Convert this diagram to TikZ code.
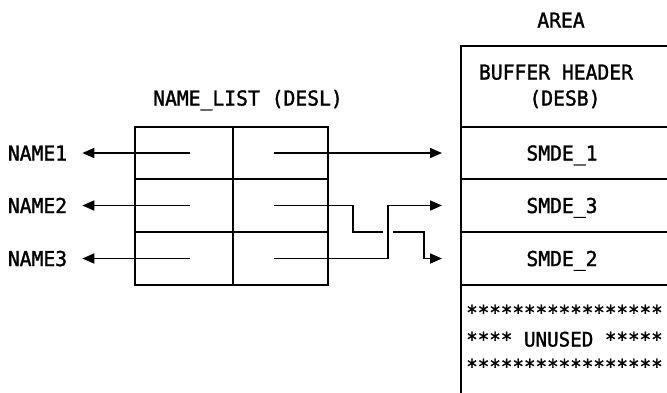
\documentclass[tikz,border=0pt]{standalone}
\usepackage{fontspec}
\setmonofont[FakeStretch=0.96,FakeBold=1.5]{DejaVu Sans Mono}
\usetikzlibrary{arrows.meta}
\begin{document}
\begin{tikzpicture}[x=1pt,y=-1pt,
  lbl/.style={font=\ttfamily\fontsize{20.5}{22}\selectfont, inner sep=0pt, text height=15pt, text depth=0pt},
  starlbl/.style={lbl, font=\ttfamily\fontsize{20}{22}\selectfont, anchor=west},
  wire/.style={line width=1.7pt},
  arr/.style={line width=1.7pt, -{Triangle[length=12pt,width=10pt]}},
  cellbox/.style={draw, line width=1.7pt, inner sep=0pt, outer sep=0pt},
  rowbox/.style={draw, line width=1.7pt, inner sep=0pt, outer sep=0pt, minimum width=280pt}]
\useasboundingbox (0,0) rectangle (667,392);
\clip (0,0) rectangle (667,392);

% NAME_LIST table
\node[lbl] (title) at (248,98) {NAME\_LIST (DESL)};
\node[cellbox, minimum width=98pt, minimum height=52pt] (c11) at (184,153) {};
\node[cellbox, minimum width=95pt, minimum height=52pt] (c12) at (280.5,153) {};
\node[cellbox, minimum width=98pt, minimum height=53pt] (c21) at (184,205.5) {};
\node[cellbox, minimum width=95pt, minimum height=53pt] (c22) at (280.5,205.5) {};
\node[cellbox, minimum width=98pt, minimum height=53pt] (c31) at (184,258.5) {};
\node[cellbox, minimum width=95pt, minimum height=53pt] (c32) at (280.5,258.5) {};

% names
\node[lbl] (n1) at (37.5,153) {NAME1};
\node[lbl] (n2) at (37.5,205.5) {NAME2};
\node[lbl] (n3) at (37.5,258.5) {NAME3};

% AREA column
\node[lbl] (areat) at (561,20) {AREA};
\node[rowbox, minimum height=81pt] (r0) at (601,86.5) {};
\node[rowbox, minimum height=52pt] (r1) at (601,153) {};
\node[rowbox, minimum height=53pt] (r2) at (601,205.5) {};
\node[rowbox, minimum height=53pt] (r3) at (601,258.5) {};
\node[rowbox, minimum height=135pt] (r4) at (601,352.5) {};

\node[lbl] (bh) at (556,72) {BUFFER HEADER};
\node[lbl] (desb) at (565,98) {(DESB)};
\node[lbl] (s1) at (562,153) {SMDE\_1};
\node[lbl] (s3) at (562,205.5) {SMDE\_3};
\node[lbl] (s2) at (562,258.5) {SMDE\_2};
\node[starlbl] (u1) at (466,312) {*****************};
\node[starlbl] (u2) at (466,339) {**** UNUSED *****};
\node[starlbl] (u3) at (466,366) {*****************};

% left arrows
\draw[arr] ([xshift=6pt]c11.center) -- ([xshift=15pt]n1.east);
\draw[arr] ([xshift=6pt]c21.center) -- ([xshift=15pt]n2.east);
\draw[arr] ([xshift=6pt]c31.center) -- ([xshift=15pt]n3.east);

% right arrows
\coordinate (g1) at (383,232);
\coordinate (g2) at (393,232);
\draw[arr] ([xshift=-6.5pt]c12.center) -- ([xshift=-19pt]r1.west);
\draw[wire] ([xshift=-6.5pt]c22.center) -- (353,205.5) -- (353,232) -- (g1);
\draw[arr] (g2) -- (424,232) -- (424,258.5) -- ([xshift=-19pt]r3.west);
\draw[arr] ([xshift=-6.5pt]c32.center) -- (388,258.5) -- (388,205.5) -- ([xshift=-19pt]r2.west);
\end{tikzpicture}
\end{document}
